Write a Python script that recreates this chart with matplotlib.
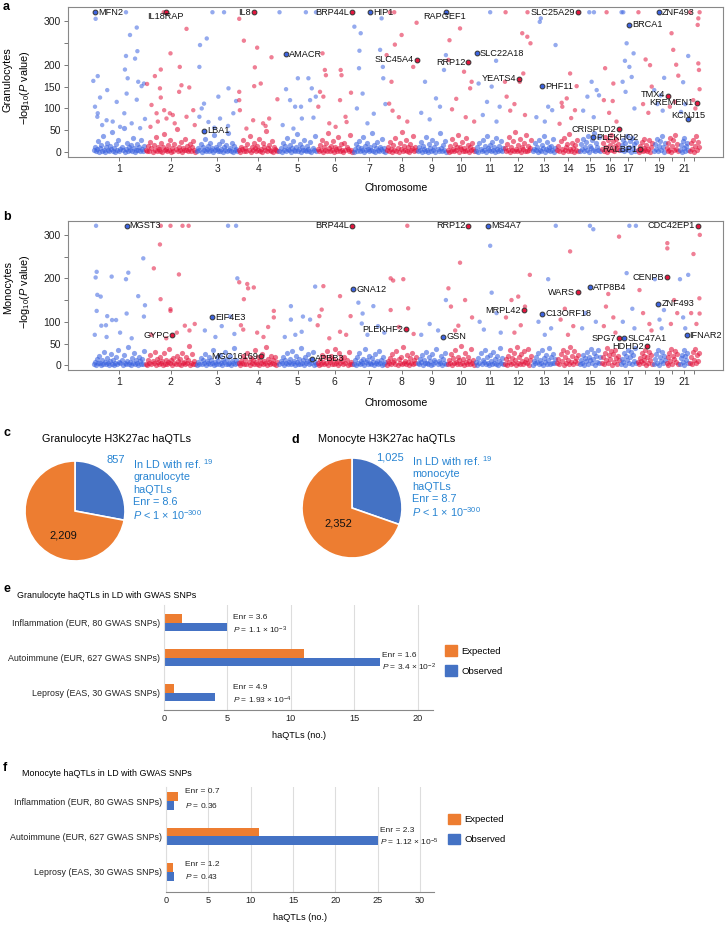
import numpy as np
import matplotlib.pyplot as plt
from matplotlib.patches import Patch

plt.rcParams['font.family'] = ['Liberation Sans', 'DejaVu Sans']
plt.rcParams['mathtext.fontset'] = 'custom'
plt.rcParams['mathtext.rm'] = 'Liberation Sans'
plt.rcParams['mathtext.it'] = 'Liberation Sans:italic'
plt.rcParams['mathtext.bf'] = 'Liberation Sans:bold'

# ---------------- data ----------------
CHROMS = list(range(1, 23))
CHROM_LEN = [249, 243, 198, 191, 181, 171, 159, 146, 141, 136, 135, 134,
             115, 107, 103, 90, 81, 78, 59, 63, 48, 51]  # Mb
CHROM_TICKLABELS = [str(c) if c not in (18, 20, 22) else "" for c in CHROMS]

# dense low band of -log10(P) values per chromosome (granulocytes)
gran_band = [
    [4,12,2,7,25,1,9,16,3,38,6,1,11,21,5,2,14,8,47,3,10,1,18,6,29,2,8,13,4,55,1,7,22,3,11,5,16,2,33,9,1,6,19,4,12,2,27,7,3,15],
    [6,2,14,3,24,9,1,17,5,35,2,11,7,3,20,1,13,42,4,8,2,16,6,28,1,10,3,19,7,52,2,12,5,23,1,9,4,31,6,15,2,8,18,3,11,26,5,1],
    [2,9,4,18,1,12,6,30,3,7,15,2,22,5,10,1,40,4,13,7,2,19,3,8,26,1,11,5,16,2,45,6,9,3,21,1,14,4,7,2],
    [5,1,13,8,27,3,10,2,18,6,37,1,12,4,22,9,2,15,5,31,3,7,1,20,11,4,48,2,9,16,6,3,25,1,12,7,4,2],
    [3,10,1,21,6,14,2,33,8,4,17,1,9,26,5,2,12,41,3,7,19,1,11,4,28,6,2,15,8,3,23,1,10,5,36,2],
    [8,2,16,4,29,1,11,6,20,3,44,9,2,14,5,25,1,12,7,3,34,10,2,18,6,1,22,4,13,8,2,39,5,1],
    [1,7,18,3,11,26,2,9,5,35,1,14,4,21,8,2,12,6,43,3,16,1,10,24,5,2,13,7,30,3,9,1],
    [4,13,2,23,7,1,17,5,32,3,10,1,20,8,46,2,14,6,27,3,11,1,19,5,9,36,2,12,4],
    [2,11,5,24,1,14,8,3,35,6,1,18,10,2,28,4,13,1,21,7,3,44,9,2,16,5,26,1],
    [6,1,15,3,30,8,2,19,5,11,40,1,13,7,24,3,9,2,33,6,17,1,12,4,22,8,2],
    [3,12,1,20,7,2,29,5,14,1,38,9,4,17,2,23,6,11,1,32,8,3,15,5,26,2,10],
    [9,2,18,4,34,1,13,6,25,3,47,8,2,16,5,30,1,12,7,21,3,39,2,14,6,10,27],
    [2,8,21,4,13,1,28,6,3,17,10,37,1,7,23,4,12,2,15,5,31,1,9],
    [5,15,2,26,8,1,33,4,12,19,3,42,7,2,22,9,1,16,6,29,3],
    [3,18,7,31,2,12,24,5,38,1,15,9,27,4,44,2,20,11,6,34,3],
    [8,22,3,35,12,1,28,6,17,40,4,25,2,14,31,9,19,5],
    [4,16,29,2,21,8,37,5,13,26,1,33,10,18,3,24],
    [6,1,14,4,23,2,10,31,5,17,3,8,27,1,12,20],
    [3,19,8,30,2,14,25,6,36,11,1,22],
    [9,2,21,5,33,1,15,27,4,39,7,18,3],
    [4,17,1,26,9,32,3,14,22,6],
    [2,20,8,29,1,15,36,5,24,11],
]

# dense low band (monocytes)
mono_band = [
    [2,8,1,14,4,22,6,1,11,3,30,7,2,17,5,1,9,26,3,12,1,6,19,2,36,8,4,13,1,24,5,2,10,41,3,7,1,16,6,28,2,11,4,1,20,9,3,15,2,33],
    [3,1,12,6,24,2,9,4,31,1,15,7,2,19,5,10,1,27,3,13,2,8,38,4,11,1,17,6,2,22,9,3,14,1,29,5,7,2,18,4,11,44,1,6,25,3,9,2],
    [1,7,3,16,2,11,5,26,1,9,4,20,2,13,6,35,1,8,3,18,10,2,24,5,1,12,7,30,3,15,2,6,21,1,9,4,39,2,11,5],
    [4,1,10,6,21,2,14,3,29,8,1,17,5,11,2,36,7,3,19,1,13,6,25,2,9,4,42,1,15,7,3,22,5,11,2,18,1,8],
    [2,9,4,18,1,12,6,27,3,8,15,2,33,5,10,1,21,7,3,14,2,40,6,11,1,19,4,9,25,2,13,5,31,1,7,3],
    [6,1,13,3,24,8,2,18,5,32,1,11,7,21,3,14,2,38,6,10,1,27,4,16,9,2,20,5,12,1,30,3,8,2],
    [3,11,1,19,6,28,2,9,4,15,1,37,7,12,3,22,5,2,17,8,1,26,4,10,2,33,6,13,1,20,3,7],
    [1,9,4,17,2,25,7,12,3,33,1,14,6,20,2,41,5,10,3,23,8,1,16,4,29,2,11,6,18],
    [5,2,14,8,23,1,11,4,31,6,2,18,9,1,26,3,13,7,38,2,10,5,21,1,15,4,27,3],
    [2,12,6,25,1,16,4,34,8,2,20,11,3,44,5,14,1,28,7,3,18,9,2,37,6,13,1],
    [7,1,16,4,27,2,12,8,36,3,19,5,1,24,10,2,31,6,14,3,22,1,9,40,4,17,2],
    [3,14,1,22,8,35,2,17,5,28,11,1,43,6,19,3,25,9,2,32,7,15,4,38,1,12,21],
    [1,10,4,19,7,28,2,13,5,34,1,16,8,23,3,11,40,2,18,6,26,4,14],
    [4,15,2,26,9,36,1,18,6,30,12,3,42,7,21,2,33,10,16,5,24],
    [2,13,6,24,1,17,9,31,3,20,12,38,5,15,27,1,22,8,34,4,18],
    [5,19,2,29,11,39,4,23,14,33,1,26,8,36,17,3,21,12],
    [3,15,8,27,1,21,12,35,5,18,30,2,24,10,39,6],
    [7,2,17,9,28,4,21,13,36,1,19,6,31,11,24,3],
    [2,14,25,6,35,1,19,9,30,4,22,12],
    [5,18,1,27,10,37,3,22,14,33,7,26,2],
    [3,16,24,8,34,1,21,12,29,5],
    [6,20,2,31,13,38,4,24,10,27],
]

# scattered strong haQTLs: (chromosome, position Mb, -log10 P)
gran_peaks = [
    (1,14,305),(1,3,163),(1,24,174),(1,35,125),(1,11,104),(1,69,142),(1,24,89),(1,114,115),(1,153,189),
    (1,158,220),(1,161,134),(1,166,169),(1,177,268),(1,201,214),(1,209,285),(1,212,231),(1,209,120),
    (1,216,161),(1,232,151),(1,243,157),(1,248,76),(1,158,320),(1,150,89),(1,22,81),(1,66,73),(1,45,62),
    (1,95,70),(1,130,58),(1,185,66),(1,225,55),
    (2,196,282),(2,120,226),(2,164,195),(2,74,189),(2,46,174),(2,9,156),(2,70,146),(2,172,153),(2,161,138),
    (2,209,148),(2,74,125),(2,30,108),(2,90,96),(2,54,89),(2,117,89),(2,228,96),(2,131,85),(2,101,77),
    (2,196,81),(2,88,320),(2,140,66),(2,60,70),(2,235,62),(2,25,58),
    (3,14,195),(3,17,245),(3,49,260),(3,25,100),(3,104,127),(3,152,146),(3,36,111),(3,14,81),(3,57,69),
    (3,112,77),(3,175,89),(3,188,117),(3,76,320),(3,131,320),(3,150,60),(3,85,56),
    (4,5,305),(4,27,255),(4,90,239),(4,79,194),(4,158,217),(4,107,157),(4,76,151),(4,5,138),(4,5,119),
    (4,186,121),(4,147,77),(4,8,96),(4,39,54),(4,118,66),(4,71,73),(4,130,60),
    (5,5,320),(5,130,320),(5,178,320),(5,36,144),(5,92,169),(5,142,169),(5,158,146),(5,79,104),(5,107,104),
    (5,55,119),(5,150,119),(5,177,127),(5,166,79),(5,111,77),(5,71,54),(5,20,62),
    (6,28,226),(6,39,188),(6,44,176),(6,114,188),(6,118,176),(6,111,119),(6,16,138),(6,32,127),(6,8,104),
    (6,137,81),(6,142,69),(6,163,136),(6,60,66),(6,90,58),
    (7,8,287),(7,38,272),(7,30,192),(7,32,232),(7,137,306),(7,130,234),(7,143,195),(7,47,134),(7,145,169),
    (7,20,100),(7,100,88),(7,70,66),(7,155,110),
    (8,17,320),(8,38,320),(8,2,222),(8,41,246),(8,73,268),(8,144,296),(8,25,161),(8,128,195),(8,14,111),
    (8,60,80),(8,100,70),(8,30,95),
    (9,38,161),(9,90,123),(9,109,104),(9,137,222),(9,128,188),(9,20,90),(9,60,75),
    (10,63,283),(10,13,256),(10,8,211),(10,82,184),(10,118,161),(10,111,146),(10,45,122),(10,25,98),
    (10,90,80),(10,130,70),
    (11,70,320),(11,98,209),(11,77,150),(11,15,157),(11,55,115),(11,115,104),(11,35,85),(11,100,70),
    (12,8,320),(12,112,320),(12,87,272),(12,111,264),(12,126,249),(12,92,180),(12,5,161),(12,13,127),
    (12,75,161),(12,50,110),(12,30,95),(12,100,85),
    (13,36,298),(13,41,306),(13,111,245),(13,76,104),(13,95,96),(13,20,80),(13,60,70),
    (14,65,180),(14,96,151),(14,49,123),(14,28,104),(14,88,96),(14,25,113),(14,70,78),(14,15,65),
    (15,49,320),(15,71,320),(15,60,161),(15,84,142),(15,40,127),(15,95,130),(15,20,95),(15,70,80),
    (16,28,320),(16,21,192),(16,60,157),(16,15,119),(16,57,117),(16,40,90),(16,75,70),
    (17,9,320),(17,17,320),(17,33,249),(17,66,226),(17,25,209),(17,46,195),(17,14,161),(17,28,138),
    (17,57,172),(17,70,100),
    (18,8,320),(18,63,199),(18,71,150),(18,42,212),(18,30,110),(18,55,90),
    (19,5,142),(19,52,170),(19,35,130),(19,20,110),(19,45,95),
    (20,28,272),(20,36,234),(20,50,200),(20,20,104),(20,45,115),(20,60,175),
    (21,44,220),(21,20,160),(21,30,110),(21,10,92),
    (22,5,320),(22,50,320),(22,44,306),(22,41,291),(22,44,203),(22,47,188),(22,50,144),(22,20,119),(22,30,100),
]

mono_peaks = [
    (1,16,321),(1,19,215),(1,14,202),(1,22,162),(1,38,158),(1,19,125),(1,69,113),(1,41,91),(1,63,92),
    (1,92,104),(1,111,104),(1,90,204),(1,158,198),(1,169,213),(1,161,119),(1,216,159),(1,248,138),
    (1,243,112),(1,66,65),(1,240,246),(1,130,75),(1,185,62),(1,10,70),
    (2,74,321),(2,120,321),(2,177,321),(2,206,321),(2,70,278),(2,41,223),(2,160,209),(2,73,152),(2,120,129),
    (2,120,125),(2,188,91),(2,235,95),(2,30,70),(2,100,62),(2,150,75),(2,210,80),
    (3,150,321),(3,188,321),(3,194,200),(3,160,112),(3,40,80),(3,90,65),(3,120,90),(3,180,72),
    (4,5,191),(4,43,187),(4,47,177),(4,74,179),(4,27,152),(4,13,92),(4,169,125),(4,169,110),(4,142,88),
    (4,24,82),(4,90,75),(4,120,65),
    (5,59,136),(5,59,105),(5,116,112),(5,150,105),(5,174,181),(5,110,77),(5,30,65),(5,80,70),
    (6,32,182),(6,5,92),(6,24,128),(6,13,113),(6,111,159),(6,161,113),(6,111,77),(6,140,70),(6,60,62),
    (7,27,144),(7,47,119),(7,43,96),(7,98,136),(7,120,90),(7,150,75),(7,70,70),
    (8,100,321),(8,21,200),(8,33,195),(8,81,198),(8,104,131),(8,21,127),(8,60,88),(8,130,72),
    (9,137,150),(9,60,95),(9,100,80),(9,20,70),
    (10,63,236),(10,8,177),(10,55,91),(10,87,150),(10,20,135),(10,120,110),(10,40,80),
    (11,70,275),(11,77,167),(11,100,120),(11,20,100),(11,40,82),(11,120,75),
    (12,123,208),(12,68,158),(12,36,150),(12,100,135),(12,10,110),(12,80,92),(12,50,75),
    (13,112,321),(13,76,198),(13,30,100),(13,90,85),(13,60,70),
    (14,65,262),(14,40,130),(14,20,105),(14,80,90),(14,55,70),
    (15,52,321),(15,68,313),(15,30,120),(15,80,100),(15,15,85),
    (16,36,164),(16,25,135),(16,87,296),(16,60,110),(16,15,90),(16,70,75),
    (17,46,321),(17,77,321),(17,33,212),(17,60,130),(17,15,100),(17,70,85),
    (18,13,173),(18,30,120),(18,60,95),(18,70,80),
    (19,8,198),(19,51,127),(19,30,105),(19,40,85),
    (20,8,281),(20,8,269),(20,40,150),(20,55,120),(20,25,95),
    (21,44,208),(21,5,198),(21,20,110),(21,30,85),
    (22,51,300),(22,21,256),(22,49,154),(22,50,119),(22,10,120),(22,35,95),
]

# labelled genes: (name, chromosome, position Mb, -log10 P)
gran_genes = [
    ("MFN2",1,11,320), ("IL18RAP",2,101,320), ("IL8",4,74,320), ("BRP44L",6,169,320),
    ("AMACR",5,35,224), ("LBA1",3,38,49), ("HIP1",7,82,320), ("RAPGEF1",9,137,320),
    ("SLC25A29",14,104,320), ("ZNF493",19,27,320), ("BRCA1",17,44,291), ("SLC45A4",8,144,211),
    ("RRP12",10,103,206), ("SLC22A18",11,6,226), ("YEATS4",12,73,168), ("PHF11",13,49,151),
    ("TMX4",20,13,129), ("KREMEN1",22,36,113), ("KCNJ15",21,44,75), ("CRISPLD2",16,87,53),
    ("PLEKHO2",15,68,34), ("RALBP1",18,16,7),
]
mono_genes = [
    ("MGST3",1,161,321), ("BRP44L",6,169,321), ("GNA12",7,3,175), ("EIF4E3",3,73,111),
    ("GYPC",2,128,69), ("MGC16169",4,107,21), ("APBB3",5,157,15), ("PLEKHF2",8,96,83),
    ("RRP12",10,103,321), ("MS4A7",11,62,321), ("CDC42EP1",22,44,321), ("GSN",9,125,65),
    ("MRPL42",12,96,127), ("C13ORF18",13,47,118), ("WARS",14,104,168), ("ATP8B4",15,52,180),
    ("CENPB",20,8,203), ("ZNF493",19,24,141), ("SPG7",16,88,62), ("SLC47A1",17,22,62),
    ("HDHD2",18,47,44), ("IFNAR2",21,36,69),
]

# pies
GRAN_PIE = [857, 2209]
MONO_PIE = [1025, 2352]
GRAN_PIE_NOTE = ["In LD with ref. $^{19}$", "granulocyte", "haQTLs", "Enr = 8.6",
                 "$P$ < 1 × 10$^{-300}$"]
MONO_PIE_NOTE = ["In LD with ref. $^{19}$", "monocyte", "haQTLs", "Enr = 8.7",
                 "$P$ < 1 × 10$^{-300}$"]

# GWAS overlap bars
CATEGORIES = ["Inflammation (EUR, 80 GWAS SNPs)", "Autoimmune (EUR, 627 GWAS SNPs)",
              "Leprosy (EAS, 30 GWAS SNPs)"]
GRAN_EXPECTED = [1.4, 11.0, 0.82]
GRAN_OBSERVED = [5, 17, 4]
GRAN_ENR = ["3.6", "1.6", "4.9"]
GRAN_P = ["1.1 × 10$^{-3}$", "3.4 × 10$^{-2}$", "1.93 × 10$^{-4}$"]
MONO_EXPECTED = [1.4, 11.0, 0.84]
MONO_OBSERVED = [1, 25, 1]
MONO_ENR = ["0.7", "2.3", "1.2"]
MONO_P = ["0.36", "1.12 × 10$^{-5}$", "0.43"]

# ---------------- style ----------------
BLUE = '#3d64e0'
RED = '#e3163e'
ORANGE = '#ED7D31'
OBLUE = '#4472C4'
NOTE_BLUE = '#2784d2'
GRAN_SIDES = {"IL18RAP": "b", "IL8": "l", "BRP44L": "l", "RAPGEF1": "b", "SLC25A29": "l",
              "SLC45A4": "l", "RRP12": "l", "YEATS4": "l", "TMX4": "lu", "KREMEN1": "l",
              "KCNJ15": "a", "CRISPLD2": "l", "RALBP1": "l"}
MONO_SIDES = {"BRP44L": "l", "GYPC": "l", "MGC16169": "l", "PLEKHF2": "l", "RRP12": "l",
              "CDC42EP1": "l", "MRPL42": "l", "WARS": "l", "CENPB": "l", "SPG7": "l", "HDHD2": "l"}
LABEL_OFFSETS = {"r": (2.2, 0, 'left'), "l": (-2.2, 0, 'right'), "lu": (-2.2, 1.2, 'right'),
                 "b": (-1.0, -3.3, 'center'), "a": (0, 2.8, 'center')}
SMALL = 6.0  # annotation text size for the GWAS bar panels

W, H = 725, 925
fig = plt.figure(figsize=(W / 100, H / 100), dpi=100)


def fx(px):
    return px / W


def fy(py):
    return 1 - py / H


def box(l, t, r, b):
    return [fx(l), fy(b), (r - l) / W, (b - t) / H]


OFFSET = np.concatenate([[0], np.cumsum(CHROM_LEN)[:-1]])
MID = OFFSET + np.array(CHROM_LEN) / 2


def chrom_color(c):
    return BLUE if c % 2 else RED


def manhattan(ax, band, peaks, genes, sides, ytl):
    for c, vals in zip(CHROMS, band):
        xs = OFFSET[c - 1] + np.linspace(0, CHROM_LEN[c - 1], len(vals) + 2)[1:-1]
        ax.scatter(xs, vals, s=14, color=chrom_color(c), alpha=0.6, lw=0)
    pk = np.array(peaks, dtype=float)
    chrs = pk[:, 0].astype(int)
    ax.scatter(OFFSET[chrs - 1] + pk[:, 1], pk[:, 2], s=10,
               c=[chrom_color(c) for c in chrs], alpha=0.55, lw=0)
    for name, c, pos, val in genes:
        x = OFFSET[c - 1] + pos
        ax.scatter([x], [val], s=12, color=chrom_color(c), edgecolor='#333333',
                   lw=0.7, zorder=4)
        dx, dy, ha = LABEL_OFFSETS[sides.get(name, 'r')]
        ax.annotate(name, (x, val), xytext=(dx, dy), textcoords='offset points',
                    ha=ha, va='center', fontsize=6.6, color='#111111', zorder=5)
    ax.set_xlim(-117, 2989)
    ax.set_ylim(-11, 332)
    ax.set_xticks(MID)
    ax.set_xticklabels(CHROM_TICKLABELS)
    ax.set_yticks([0, 50, 100, 150, 200, 250, 300])
    ax.set_yticklabels(ytl)
    ax.tick_params(colors='#777777', labelcolor='#222222', labelsize=7.5, length=3,
                   width=0.7, pad=2)
    for s in ax.spines.values():
        s.set_color('#888888')
        s.set_linewidth(0.8)


ax_a = fig.add_axes(box(68, 7, 723, 157))
manhattan(ax_a, gran_band, gran_peaks, gran_genes, GRAN_SIDES,
          ['0', '50', '100', '150', '200', '', '300'])
ax_b = fig.add_axes(box(68, 221, 723, 370))
manhattan(ax_b, mono_band, mono_peaks, mono_genes, MONO_SIDES,
          ['0', '50', '100', '', '200', '', '300'])

YLAB = '\u2212log$_{10}$($P$ value)'
for name, yc, ylab in [("Granulocytes", 80, 88), ("Monocytes", 288, 292)]:
    fig.text(fx(8), fy(yc), name, rotation=90, ha='center', va='center', fontsize=7.8)
    fig.text(fx(25), fy(ylab), YLAB, rotation=90, ha='center', va='center', fontsize=7.8)
for yy in (188, 403):
    fig.text(fx(396), fy(yy), "Chromosome", ha='center', va='center', fontsize=7.6)

# panel letters
for letter, x, y in [("a", 3, 7), ("b", 3, 217), ("c", 3, 433), ("d", 292, 440),
                     ("e", 3, 589), ("f", 3, 768)]:
    fig.text(fx(x), fy(y), letter, fontsize=9, fontweight='bold', ha='left', va='center')


# ---------------- pies ----------------
def pie(cx, cy, vals, title, tx, note, note_x, note_y0, n1_xy, n2_xy):
    ax = fig.add_axes(box(cx - 50, cy - 50, cx + 50, cy + 50))
    ax.pie(vals, colors=[OBLUE, ORANGE], startangle=90, counterclock=False,
           wedgeprops=dict(edgecolor='white', linewidth=1.2))
    ax.set_xlim(-1, 1)
    ax.set_ylim(-1, 1)
    fig.text(fx(tx), fy(439), title, ha='center', va='center', fontsize=7.8)
    fig.text(fx(n1_xy[0]), fy(n1_xy[1]), f"{vals[0]:,}", ha='center', va='center',
             fontsize=8, color=NOTE_BLUE)
    fig.text(fx(n2_xy[0]), fy(n2_xy[1]), f"{vals[1]:,}", ha='center', va='center',
             fontsize=8, color='#111111')
    for i, line in enumerate(note):
        fig.text(fx(note_x), fy(note_y0 + 12.8 * i), line, ha='left', va='center',
                 fontsize=7.8, color=NOTE_BLUE)


pie(75, 511, GRAN_PIE, "Granulocyte H3K27ac haQTLs", 117, GRAN_PIE_NOTE, 133, 464,
    (116, 460), (63, 535))
pie(352, 508, MONO_PIE, "Monocyte H3K27ac haQTLs", 387, MONO_PIE_NOTE, 412, 461,
    (390, 457), (338, 524))


# ---------------- bars ----------------
def bars(ax, expected, observed, enr, pval, xmax, ticks, note_pos, legend_xy):
    y = np.array([2, 1, 0])
    ax.barh(y + 0.125, expected, height=0.25, color=ORANGE)
    ax.barh(y - 0.125, observed, height=0.25, color=OBLUE)
    ax.set_xlim(0, xmax)
    ax.set_yticks(y)
    ax.set_yticklabels(CATEGORIES, fontsize=6.4)
    ax.set_xticks(ticks)
    ax.set_xticklabels([str(t) for t in ticks], fontsize=6.6)
    ax.tick_params(length=0, pad=3, labelcolor='#222222')
    ax.grid(axis='x', color='#dddddd', lw=0.8)
    ax.set_axisbelow(True)
    for s in ('top', 'right'):
        ax.spines[s].set_visible(False)
    ax.spines['left'].set_color('#dddddd')
    ax.spines['bottom'].set_color('#888888')
    ax.spines['bottom'].set_linewidth(0.8)
    ax.set_xlabel("haQTLs (no.)", fontsize=6.6, labelpad=6)
    for (nx, ey, py), e, p in zip(note_pos, enr, pval):
        ax.text(nx, ey, f"Enr = {e}", ha='left', va='center', fontsize=SMALL,
                color='#222222')
        ax.text(nx, py, f"$P$ = {p}", ha='left', va='center', fontsize=SMALL,
                color='#222222')
    ax.legend(handles=[Patch(color=ORANGE, label='Expected'),
                       Patch(color=OBLUE, label='Observed')],
              loc='center left', bbox_to_anchor=(fx(legend_xy[0]), fy(legend_xy[1])),
              bbox_transform=fig.transFigure, frameon=False, borderpad=0,
              borderaxespad=0, handlelength=1.3, handleheight=1.3,
              handletextpad=0.4, labelspacing=1.0, fontsize=6.8)


ax_e = fig.add_axes(box(164, 605, 433, 710))
ax_e.set_ylim(-0.5, 2.5)
bars(ax_e, GRAN_EXPECTED, GRAN_OBSERVED, GRAN_ENR, GRAN_P, 21.2, [0, 5, 10, 15, 20],
     [(5.45, 2.14, 1.77), (17.2, 1.06, 0.71), (5.45, 0.14, -0.23)], (445, 660.5))
fig.text(fx(17), fy(595), "Granulocyte haQTLs in LD with GWAS SNPs", ha='left',
         va='center', fontsize=6.4)

ax_f = fig.add_axes(box(166, 787, 434, 892))
ax_f.set_ylim(-0.57, 2.4)
bars(ax_f, MONO_EXPECTED, MONO_OBSERVED, MONO_ENR, MONO_P, 31.65,
     [0, 5, 10, 15, 20, 25, 30],
     [(2.24, 2.26, 1.89), (25.3, 1.17, 0.83), (2.24, 0.2, -0.14)], (448, 829))
fig.text(fx(22), fy(773), "Monocyte haQTLs in LD with GWAS SNPs", ha='left',
         va='center', fontsize=6.4)

fig.savefig("out.png", dpi=100)
